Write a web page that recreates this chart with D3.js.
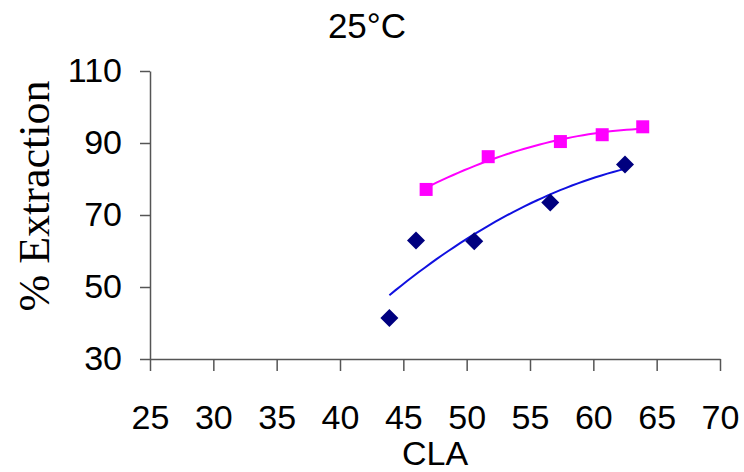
<!DOCTYPE html>
<html>
<head>
<meta charset="utf-8">
<script src="https://cdn.jsdelivr.net/npm/d3@7"></script>
<style>
  body { margin: 0; background: #fff; }
  svg { display: block; }
</style>
</head>
<body>
<svg id="chart" width="744" height="472"></svg>
<script>
// data
const cla_blue = [43.9, 46.0, 50.6, 56.6, 62.5];
const ext_blue = [41.4, 62.9, 62.7, 73.5, 84.0];
const cla_pink = [46.8, 51.7, 57.4, 60.7, 63.9];
const ext_pink = [77.1, 86.2, 90.4, 92.3, 94.5];

const x_ticks = [25, 30, 35, 40, 45, 50, 55, 60, 65, 70];
const y_ticks = [30, 50, 70, 90, 110];

const title_text = "25°C";
const x_title = "CLA";
const y_title = "% Extraction";

const color_dict = {
	blue_pt: "#00007f",
	blue_line: "#1010e0",
	pink: "#ff00ff",
	axis: "#555",
};

const svg = d3.select("#chart");

const plot = { left: 150, right: 720, top: 71, bottom: 359 };

const x = d3.scaleLinear().domain([25, 70]).range([plot.left, plot.right]);
const y = d3.scaleLinear().domain([30, 110]).range([plot.bottom, plot.top]);

// 2nd order polynomial trendline (least squares), like the excel one
function poly2_fit(xs, ys) {
	let s = [0, 0, 0, 0, 0];
	let t = [0, 0, 0];
	for (let i = 0; i < xs.length; i++) {
		for (let k = 0; k < 5; k++) s[k] += Math.pow(xs[i], k);
		for (let k = 0; k < 3; k++) t[k] += ys[i] * Math.pow(xs[i], k);
	}
	const m = [
		[s[0], s[1], s[2], t[0]],
		[s[1], s[2], s[3], t[1]],
		[s[2], s[3], s[4], t[2]],
	];
	for (let c = 0; c < 3; c++) {
		for (let r = c + 1; r < 3; r++) {
			const f = m[r][c] / m[c][c];
			for (let k = c; k < 4; k++) m[r][k] -= f * m[c][k];
		}
	}
	const b = [0, 0, 0];
	for (let r = 2; r >= 0; r--) {
		let v = m[r][3];
		for (let k = r + 1; k < 3; k++) v -= m[r][k] * b[k];
		b[r] = v / m[r][r];
	}
	return (v) => b[0] + b[1] * v + b[2] * v * v;
}

function trend_points(xs, ys) {
	const f = poly2_fit(xs, ys);
	const lo = d3.min(xs);
	const hi = d3.max(xs);
	const pts = [];
	for (let i = 0; i <= 40; i++) {
		const v = lo + ((hi - lo) * i) / 40;
		pts.push([v, f(v)]);
	}
	return pts;
}

const line = d3
	.line()
	.x((d) => x(d[0]))
	.y((d) => y(d[1]));

// axes
const y_axis = svg
	.append("g")
	.attr("transform", `translate(${plot.left},0)`)
	.call(d3.axisLeft(y).tickValues(y_ticks).tickSize(10).tickPadding(18).tickSizeOuter(0));

const x_axis = svg
	.append("g")
	.attr("transform", `translate(0,${plot.bottom})`)
	.call(d3.axisBottom(x).tickValues(x_ticks).tickSize(12).tickPadding(34).tickSizeOuter(0));

[x_axis, y_axis].forEach((g) => {
	g.select(".domain").attr("stroke", color_dict.axis).attr("stroke-width", 1.5);
	g.selectAll(".tick line").attr("stroke", color_dict.axis).attr("stroke-width", 1.5);
	g.selectAll(".tick text")
		.attr("fill", "#000")
		.attr("font-family", "'Liberation Sans', Arial, sans-serif")
		.attr("font-size", 34);
});

// trendlines
svg
	.append("path")
	.attr("d", line(trend_points(cla_blue, ext_blue)))
	.attr("fill", "none")
	.attr("stroke", color_dict.blue_line)
	.attr("stroke-width", 2);

svg
	.append("path")
	.attr("d", line(trend_points(cla_pink, ext_pink)))
	.attr("fill", "none")
	.attr("stroke", color_dict.pink)
	.attr("stroke-width", 2);

// markers
svg
	.append("g")
	.selectAll("path")
	.data(d3.zip(cla_blue, ext_blue))
	.join("path")
	.attr("d", "M0,-9L9,0L0,9L-9,0Z")
	.attr("transform", (d) => `translate(${x(d[0])},${y(d[1])})`)
	.attr("fill", color_dict.blue_pt);

svg
	.append("g")
	.selectAll("rect")
	.data(d3.zip(cla_pink, ext_pink))
	.join("rect")
	.attr("x", (d) => x(d[0]) - 6.5)
	.attr("y", (d) => y(d[1]) - 6.5)
	.attr("width", 13)
	.attr("height", 13)
	.attr("fill", color_dict.pink);

// titles
svg
	.append("text")
	.attr("x", 367)
	.attr("y", 38)
	.attr("text-anchor", "middle")
	.attr("font-family", "'Liberation Sans', Arial, sans-serif")
	.attr("font-size", 35)
	.text(title_text);

svg
	.append("text")
	.attr("x", (plot.left + plot.right) / 2)
	.attr("y", 465)
	.attr("text-anchor", "middle")
	.attr("font-family", "'Liberation Sans', Arial, sans-serif")
	.attr("font-size", 34)
	.text(x_title);

svg
	.append("text")
	.attr("transform", "translate(49,196) rotate(-90)")
	.attr("text-anchor", "middle")
	.attr("font-family", "'Liberation Serif', 'Times New Roman', serif")
	.attr("font-size", 44)
	.text(y_title);
</script>
</body>
</html>
